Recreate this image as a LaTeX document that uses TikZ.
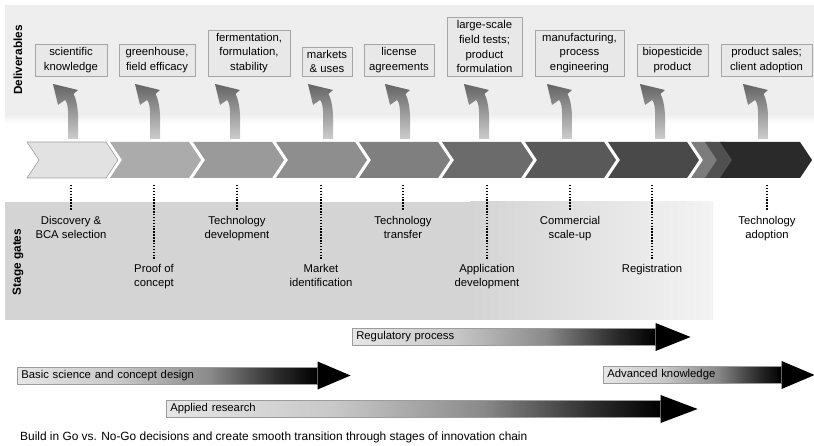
\documentclass[tikz,border=0pt]{standalone}
\usepackage{fontspec}
\setmainfont{Liberation Sans}
\usetikzlibrary{arrows.meta, positioning, calc}

\definecolor{bandlight}{HTML}{EEEEEE}
\definecolor{bandgate}{HTML}{D4D4D4}
\definecolor{bandend}{HTML}{F3F3F3}
\definecolor{boxfill}{HTML}{E8E8E8}
\definecolor{boxline}{HTML}{A6A6A6}
\definecolor{curldark}{HTML}{646464}
\definecolor{curllight}{HTML}{CDCDCD}
\definecolor{chevedge}{HTML}{A0A0A0}
\definecolor{chevA}{HTML}{E2E2E2}
\definecolor{chevB}{HTML}{ABABAB}
\definecolor{chevC}{HTML}{9A9A9A}
\definecolor{chevD}{HTML}{8E8E8E}
\definecolor{chevE}{HTML}{7F7F7F}
\definecolor{chevF}{HTML}{6B6B6B}
\definecolor{chevG}{HTML}{595959}
\definecolor{chevH}{HTML}{494949}
\definecolor{chevI}{HTML}{7C7C7C}
\definecolor{chevJ}{HTML}{505050}
\definecolor{chevK}{HTML}{2A2A2A}
\definecolor{barlight}{HTML}{E6E6E6}
\definecolor{barmid}{HTML}{C8C8C8}
\definecolor{bargray}{HTML}{8A8A8A}
\definecolor{bardark}{HTML}{2E2E2E}
\definecolor{barline}{HTML}{9C9C9C}

% light on the left, black where the head starts
\pgfdeclarehorizontalshading{barfade}{100bp}{color(0bp)=(barlight); color(25bp)=(barlight);
  color(42bp)=(barmid); color(57bp)=(bargray); color(68bp)=(bardark); color(75bp)=(black); color(100bp)=(black)}

\begin{document}
\begin{tikzpicture}[
    x=1pt, y=-1pt,
    >=Latex,
    txt/.style={font=\fontsize{11.3}{14.6}\selectfont, align=center},
    deliv/.style={txt, draw=boxline, fill=boxfill, inner xsep=5pt, inner ysep=3pt, anchor=south},
    gate/.style={txt, inner xsep=2pt, inner ysep=5pt, anchor=north},
    gateline/.style={line width=1.5pt, dash pattern=on 1.5pt off 1.4pt},
    lane/.style={font=\bfseries\fontsize{11.8}{14}\selectfont, rotate=90},
    bar/.style={font=\fontsize{11.3}{14}\selectfont, anchor=west, align=left, draw=barline, line width=0.6pt,
        shade, shading=barfade, minimum height=17pt, inner xsep=4pt, inner ysep=0pt},
    barhead/.style={fill=black},
    upcurl/.pic={
        \shade[top color=curldark, bottom color=curllight]
            (5,0) .. controls (5.5,-20) and (5.5,-36) .. (0.5,-45) -- (5,-49) -- (-20,-55)
            -- (-15,-34) -- (-8,-39) .. controls (-3.6,-35) and (-5,-18) .. (-5,0) -- cycle;
    },
    chev/.pic={
        \path[pic actions] (0,0) -- (#1,0) -- ++(12,18) -- ++(-12,18) -- (0,36) -- (12,18) -- cycle;
    }
]
\useasboundingbox (0,0) rectangle (814,446);

% -------------------------------------------------------------------------
% Background bands
% -------------------------------------------------------------------------
\fill[bandlight] (5,5) rectangle (814,114);
\shade[top color=bandlight, bottom color=white] (5,114) rectangle (814,124);
\fill[bandgate] (5,202) rectangle (470,320);
\shade[left color=bandgate, right color=bandend] (470,202) rectangle (713,320);

\node[lane] (lanedel) at (18,60) {Deliverables};
\node[lane] (lanegate) at (18,262) {Stage gates};

% -------------------------------------------------------------------------
% Deliverables (boxes sit on y = 76)
% -------------------------------------------------------------------------
\node[deliv, minimum width=72pt] (d1) at (71,76) {scientific\\knowledge};
\node[deliv, minimum width=76pt] (d2) at (157,76) {greenhouse,\\field efficacy};
\node[deliv, minimum width=82pt] (d3) at (249,76) {fermentation,\\formulation,\\stability};
\node[deliv, minimum width=50pt] (d4) at (327,76) {markets\\\& uses};
\node[deliv, minimum width=70pt] (d5) at (399,76) {license\\agreements};
\node[deliv, minimum width=75pt] (d6) at (484.5,76) {large-scale\\field tests;\\product\\formulation};
\node[deliv, minimum width=89pt] (d7) at (579.5,76) {manufacturing,\\process\\engineering};
\node[deliv, minimum width=71pt] (d8) at (672.5,76) {biopesticide\\product};
\node[deliv, minimum width=91pt] (d9) at (766.5,76) {product sales;\\client adoption};

% Curled arrows rising from the chain
\pic at (73,139) {upcurl};
\pic at (155,139) {upcurl};
\pic at (235,139) {upcurl};
\pic at (328,139) {upcurl};
\pic at (405,139) {upcurl};
\pic at (484,139) {upcurl};
\pic at (567,139) {upcurl};
\pic at (660,139) {upcurl};
\pic at (763,139) {upcurl};

% -------------------------------------------------------------------------
% Chevron chain
% -------------------------------------------------------------------------
\pic[fill=chevA, draw=chevedge, line width=0.6pt] at (27,142) {chev=79};
\pic[fill=chevB] at (110,142) {chev=79};
\pic[fill=chevC] at (193,142) {chev=79};
\pic[fill=chevD] at (276,142) {chev=79};
\pic[fill=chevE] at (359,142) {chev=79};
\pic[fill=chevF] at (442,142) {chev=79};
\pic[fill=chevG] at (525,142) {chev=79};
\pic[fill=chevH] at (608,142) {chev=79};
% last link is stacked
\pic[fill=chevI] at (691,142) {chev=20};
\pic[fill=chevJ] at (705,142) {chev=20};
\pic[fill=chevK] at (720,142) {chev=80};

% -------------------------------------------------------------------------
% Stage gates: short drops at y = 212, long drops at y = 260
% -------------------------------------------------------------------------
\coordinate (t1) at (71,185);
\coordinate (t2) at (154,185);
\coordinate (t3) at (237,185);
\coordinate (t4) at (321,185);
\coordinate (t5) at (403,185);
\coordinate (t6) at (487,185);
\coordinate (t7) at (570,185);
\coordinate (t8) at (652,185);
\coordinate (t9) at (767,185);

\node[gate] (g1) at (71,211) {Discovery \&\\BCA selection};
\node[gate] (g2) at (154,259) {Proof of\\concept};
\node[gate] (g3) at (237,211) {Technology\\development};
\node[gate] (g4) at (321,259) {Market\\identification};
\node[gate] (g5) at (403,211) {Technology\\transfer};
\node[gate] (g6) at (487,259) {Application\\development};
\node[gate] (g7) at (570,211) {Commercial\\scale-up};
\node[gate] (g8) at (652,259) {Registration};
\node[gate] (g9) at (767,211) {Technology\\adoption};

\draw[gateline] (t1) -- (g1.north);
\draw[gateline] (t2) -- (g2.north);
\draw[gateline] (t3) -- (g3.north);
\draw[gateline] (t4) -- (g4.north);
\draw[gateline] (t5) -- (g5.north);
\draw[gateline] (t6) -- (g6.north);
\draw[gateline] (t7) -- (g7.north);
\draw[gateline] (t8) -- (g8.north);
\draw[gateline] (t9) -- (g9.north);

% -------------------------------------------------------------------------
% Research streams
% -------------------------------------------------------------------------
\node[bar, text width=295pt] (regul) at (352,337) {Regulatory process};
\fill[barhead] (regul.east) ++(0,-14) -- ++(35,14) -- ++(-35,14) -- cycle;

\node[bar, text width=292pt] (basic) at (17,375.5) {Basic science and concept design};
\fill[barhead] (basic.east) ++(0,-14) -- ++(33,14) -- ++(-33,14) -- cycle;

\node[bar, text width=170pt] (advan) at (603,375) {Advanced knowledge};
\fill[barhead] (advan.east) ++(0,-14) -- ++(33,14) -- ++(-33,14) -- cycle;

\node[bar, text width=486pt] (appl) at (166,409) {Applied research};
\fill[barhead] (appl.east) ++(0,-14) -- ++(37,14) -- ++(-37,14) -- cycle;

\node[anchor=west, inner sep=0pt, font=\fontsize{11.9}{13}\selectfont] (note) at (20,437)
    {Build in Go vs. No-Go decisions and create smooth transition through stages of innovation chain};

\end{tikzpicture}
\end{document}
